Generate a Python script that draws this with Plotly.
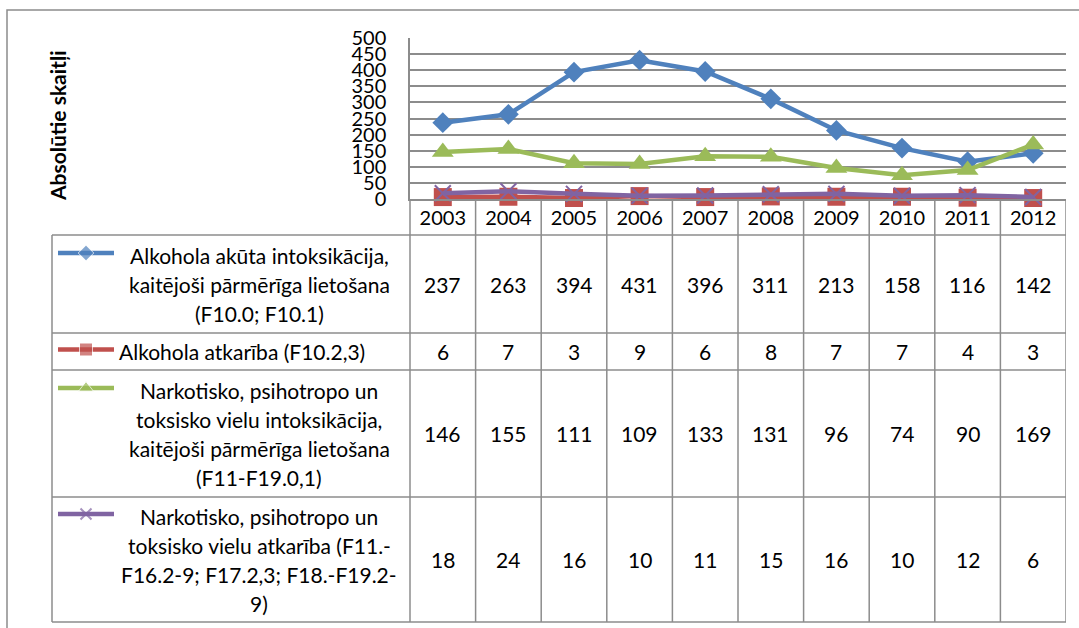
import plotly.graph_objects as go

# ---------------- data ----------------
years = ["2003", "2004", "2005", "2006", "2007", "2008", "2009", "2010", "2011", "2012"]
alc_acute = [237, 263, 394, 431, 396, 311, 213, 158, 116, 142]
alc_dep = [6, 7, 3, 9, 6, 8, 7, 7, 4, 3]
drug_intox = [146, 155, 111, 109, 133, 131, 96, 74, 90, 169]
drug_dep = [18, 24, 16, 10, 11, 15, 16, 10, 12, 6]
y_ticks = [0, 50, 100, 150, 200, 250, 300, 350, 400, 450, 500]

label_acute = ["Alkohola akūta intoksikācija,", "kaitējoši pārmērīga lietošana", "(F10.0; F10.1)"]
label_dep = ["Alkohola atkarība (F10.2,3)"]
label_drug_intox = ["Narkotisko, psihotropo un", "toksisko vielu intoksikācija,",
                    "kaitējoši pārmērīga lietošana", "(F11-F19.0,1)"]
label_drug_dep = ["Narkotisko, psihotropo un", "toksisko vielu atkarība (F11.-",
                  "F16.2-9; F17.2,3; F18.-F19.2-", "9)"]
y_title = "Absolūtie skaitļi"

# ---------------- style / geometry ----------------
W, H = 1079, 628
PL, PR, PT, PB = 410, 1066, 38, 199
TL = 52
ROWS = [235, 333, 370, 497, 622]
LINE_SP = 29
FONT = "Lato"
GRID = "#8c8c8c"
TFS = 21

series = [
    dict(vals=alc_acute, label=label_acute, color="#4F81BD", symbol="diamond", size=16, lsize=12, center=True),
    dict(vals=alc_dep, label=label_dep, color="#C0504D", symbol="square", size=18, lsize=13, center=False),
    dict(vals=drug_intox, label=label_drug_intox, color="#9BBB59", symbol="triangle-up", size=19, lsize=13, center=True),
    dict(vals=drug_dep, label=label_drug_dep, color="#8064A2", symbol="x-thin", size=16, lsize=11, center=True),
]

fig = go.Figure()

for s in series:
    mk = dict(symbol=s["symbol"], size=s["size"], color=s["color"])
    if s["symbol"] == "x-thin":
        mk["line"] = dict(color=s["color"], width=2)
    fig.add_trace(go.Scatter(
        x=years, y=s["vals"], mode="lines+markers",
        line=dict(color=s["color"], width=4.5),
        marker=mk, xaxis="x", yaxis="y", showlegend=False, cliponaxis=False,
    ))

shapes = []
annotations = []

def hline(y, x0, x1):
    shapes.append(dict(type="line", xref="x3", yref="y3", x0=x0, x1=x1, y0=y, y1=y,
                       line=dict(color=GRID, width=1.5)))

def vline(x, y0, y1, xref="x3"):
    shapes.append(dict(type="line", xref=xref, yref="y3", x0=x, x1=x, y0=y0, y1=y1,
                       line=dict(color=GRID, width=1.5)))

# outer chart border
shapes.append(dict(type="rect", xref="x3", yref="y3", x0=7, y0=10, x1=1200, y1=800,
                   line=dict(color=GRID, width=1.5)))

# table grid
for y in ROWS:
    hline(y, TL, PR)
vline(TL, ROWS[0], ROWS[-1])
vline(PL, PB, ROWS[-1])
for i in range(len(years)):
    vline(i + 0.5, PB, ROWS[-1], xref="x")

# table rows: legend keys, labels, values
for r, s in enumerate(series):
    top, bot = ROWS[r], ROWS[r + 1]
    mid = (top + bot) / 2
    n = len(s["label"])
    first_y = mid - (n - 1) / 2 * LINE_SP
    for k, line in enumerate(s["label"]):
        ly = mid + (k - (n - 1) / 2) * LINE_SP
        if s["center"]:
            annotations.append(dict(xref="x3", yref="y3", x=259, y=ly, text=line, showarrow=False,
                                    xanchor="center", yanchor="middle",
                                    font=dict(family=FONT, size=TFS, color="black")))
        else:
            annotations.append(dict(xref="x3", yref="y3", x=117, y=ly, text=line, showarrow=False,
                                    xanchor="left", yanchor="middle",
                                    font=dict(family=FONT, size=TFS, color="black")))
    mk = dict(symbol=s["symbol"], size=[0, s["lsize"], 0], color=s["color"])
    if s["symbol"] == "x-thin":
        mk["line"] = dict(color=s["color"], width=2)
    fig.add_trace(go.Scatter(
        x=[58, 86, 114], y=[first_y - 2] * 3, mode="lines+markers",
        line=dict(color=s["color"], width=4.5), marker=mk,
        xaxis="x3", yaxis="y3", showlegend=False, cliponaxis=False, hoverinfo="skip",
    ))
    for i, v in enumerate(s["vals"]):
        annotations.append(dict(xref="x", yref="y3", x=i, y=mid, text=str(v), showarrow=False,
                                xanchor="center", yanchor="middle",
                                font=dict(family=FONT, size=TFS, color="black")))

# y-axis title
annotations.append(dict(xref="x3", yref="y3", x=57, y=126, text="<b>" + y_title + "</b>",
                        showarrow=False, textangle=-90, xanchor="center", yanchor="middle",
                        font=dict(family=FONT, size=21, color="black")))

fig.update_layout(
    template="none",
    width=W, height=H, autosize=False,
    margin=dict(l=0, r=0, t=0, b=0, pad=0, autoexpand=False),
    paper_bgcolor="white", plot_bgcolor="rgba(0,0,0,0)",
    font=dict(family=FONT, color="black"),
    xaxis=dict(domain=[PL / W, PR / W], type="category", range=[-0.5, 9.5], automargin=False,
               showgrid=False, showline=True, linecolor=GRID, linewidth=1.5,
               ticks="", tickfont=dict(family=FONT, size=20, color="black"),
               ticklabelstandoff=0, anchor="y", fixedrange=True),
    yaxis=dict(domain=[1 - PB / H, 1 - PT / H], range=[0, 500], tickvals=y_ticks, automargin=False,
               showgrid=True, gridcolor=GRID, gridwidth=1.5, zeroline=False,
               showline=True, linecolor=GRID, linewidth=1.5,
               ticks="", tickfont=dict(family=FONT, size=20, color="black"),
               ticklabelstandoff=18, anchor="x", fixedrange=True),
    xaxis3=dict(domain=[0, 1], range=[0, W], visible=False, anchor="y3", fixedrange=True, automargin=False),
    yaxis3=dict(domain=[0, 1], range=[H, 0], visible=False, anchor="x3", fixedrange=True, automargin=False),
    shapes=shapes, annotations=annotations,
)

fig.write_html("out.html", config={"displayModeBar": False},
               post_script="document.body.style.margin='0';document.body.style.overflow='hidden';")
